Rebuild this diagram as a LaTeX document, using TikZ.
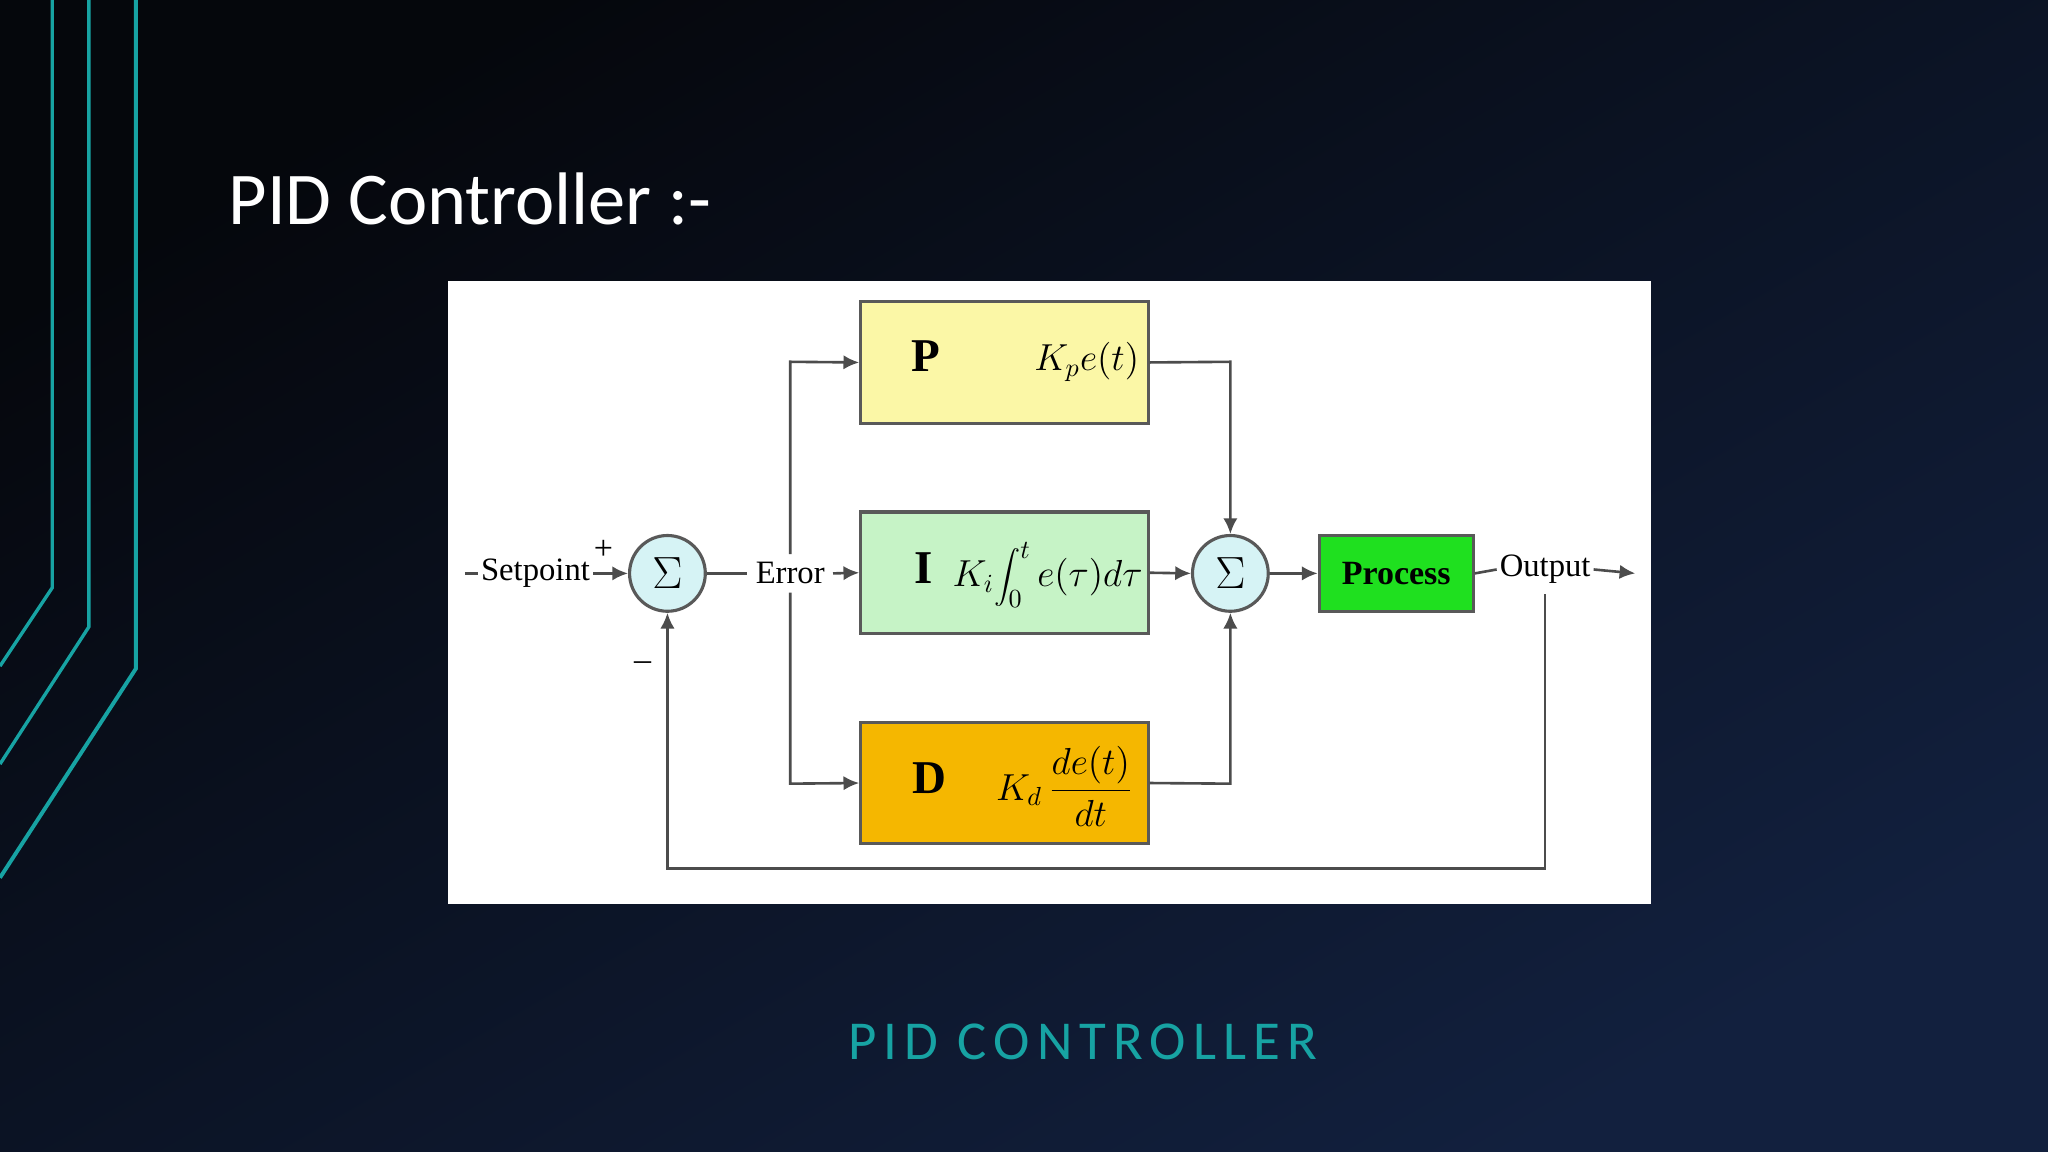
\documentclass[tikz,border=0pt]{standalone}
\usepackage{fontspec}
\setmainfont{Liberation Serif}
\newfontfamily\slide{Carlito}
\usetikzlibrary{arrows.meta}
\definecolor{tealc}{HTML}{17A3A3}
\definecolor{pbox}{HTML}{FBF7A6}
\definecolor{ibox}{HTML}{C6F3C6}
\definecolor{dbox}{HTML}{F5B700}
\definecolor{procc}{HTML}{1FE01F}
\definecolor{sumc}{HTML}{D6F3F5}
\definecolor{bgA}{HTML}{05070C}
\definecolor{bgB}{HTML}{15264A}
\begin{document}
\begin{tikzpicture}[x=0.5pt,y=-0.5pt,
  blk/.style={draw=gray!70!black,line width=1.2pt,minimum width=110pt,minimum height=46.5pt,inner sep=0},
  sum/.style={circle,draw=gray!70!black,line width=1.2pt,fill=sumc,minimum size=29pt,inner sep=0,font=\fontsize{16}{16}\selectfont},
  ln/.style={draw=gray!60!black,line width=1pt},
  ar/.style={ln,-{Latex[length=6pt,width=5.5pt]}},
  lbl/.style={font=\fontsize{12.5}{13}\selectfont,inner sep=1pt,fill=white}]
\useasboundingbox (0,0) rectangle (1568,882);
\shade[top color=bgA,bottom color=bgB!80!bgA,shading angle=30] (0,0) rectangle (1568,882);
\draw[tealc,line width=1.3pt] (40,0) -- (40,450) -- (0,510);
\draw[tealc,line width=1.3pt] (68,0) -- (68,480) -- (0,585);
\draw[tealc,line width=1.5pt] (104,0) -- (104,512) -- (0,672);
\node[anchor=west,text=white,font=\slide\fontsize{28.5}{30}\selectfont] (title) at (168,152) {PID Controller :-};
\node[text=tealc,font=\slide\fontsize{21}{24}\selectfont] (foot) at (829,798) {\addfontfeature{LetterSpace=13}PID CONTROLLER};
\fill[white] (343,215) rectangle (1264,692);
% blocks
\node[blk,fill=pbox] (P) at (769,277.5) {};
\node[blk,fill=ibox] (I) at (769,438.5) {};
\node[blk,fill=dbox] (D) at (769,599.5) {};
\node[font=\bfseries\fontsize{18}{18}\selectfont] (Pl) at (709,273) {P};
\node[font=\fontsize{14}{14}\selectfont] (Pf) at (832,277) {$K_p e(t)$};
\node[font=\bfseries\fontsize{18}{18}\selectfont] (Il) at (707,435) {I};
\node[font=\fontsize{14}{14}\selectfont] (If) at (802,440) {$\displaystyle K_i\!\int_0^t e(\tau)d\tau$};
\node[font=\bfseries\fontsize{18}{18}\selectfont] (Dl) at (712,596) {D};
\node[font=\fontsize{14}{14}\selectfont] (Df) at (815,602) {$K_d\,\displaystyle\frac{de(t)}{dt}$};
\node[draw=gray!70!black,line width=1.2pt,fill=procc,minimum width=59pt,minimum height=29pt,font=\bfseries\fontsize{13}{13}\selectfont] (proc) at (1069,439) {Process};
\node[sum] (s1) at (511,439) {$\displaystyle\Sigma$};
\node[sum] (s2) at (942,439) {$\displaystyle\Sigma$};
\node[lbl] (sp) at (410,439) {Setpoint};
\coordinate (spin) at (356,439);
\node[lbl,inner sep=3pt] (err) at (605,439) {Error};
\node[lbl] (out) at (1183,436) {Output};
\coordinate (outend) at (1252,439);
\node[font=\fontsize{13}{13}\selectfont] (plus) at (462,421) {+};
\node[font=\fontsize{13}{13}\selectfont] (minus) at (492,510) {--};
% connectors
\draw[ln] (spin) -- (sp.west);
\draw[ar] (sp.east) -- (s1.west);
\draw[ln] (s1.east) -- (err.west);
\draw[ar] (err.east) -- (I.west);
\draw[ar] (err.north) -- (605,277) -- (P.west);
\draw[ar] (err.south) -- (605,600) -- (D.west);
\draw[ar] (P.east) -- (942,277) -- (s2.north);
\draw[ar] (D.east) -- (942,600) -- (s2.south);
\draw[ar] (I.east) -- (s2.west);
\draw[ar] (s2.east) -- (proc.west);
\draw[ln] (proc.east) -- (out.west);
\draw[ar] (out.east) -- (outend);
\draw[ar] (1183,455) -- (1183,665) -- (511,665) -- (s1.south);
\end{tikzpicture}
\end{document}
